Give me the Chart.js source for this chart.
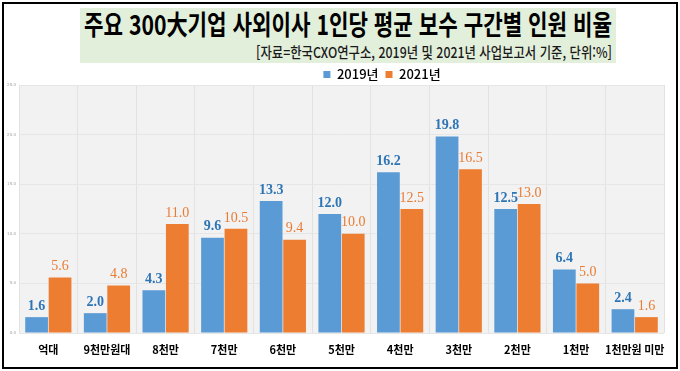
<!DOCTYPE html>
<html lang="ko">
<head>
<meta charset="utf-8">
<title>사외이사 보수 구간별 인원 비율</title>
<script src="https://cdn.jsdelivr.net/npm/chart.js@4.4.1/dist/chart.umd.min.js"></script>
<style>
  html, body { margin: 0; padding: 0; background: #fff; }
  #wrap { position: relative; width: 680px; height: 371px; overflow: hidden; }
  #titleBox { position: absolute; left: 80px; top: 8px; width: 536px; height: 55px; background: #e2efda; }
  .txt { position: absolute; white-space: nowrap; font-family: 'Noto Sans CJK KR', sans-serif;
         transform-origin: left top; line-height: 1; color: #000; }
  #title { left: 84px; top: 10px; font-size: 27px; font-weight: 700; }
  #subtitle { left: 256px; top: 44px; font-size: 15px; font-weight: 500; color: #1a1a1a; }
  #chartBox { position: absolute; left: 0; top: 0; width: 680px; height: 371px; }
  #frame { position: absolute; left: 2px; top: 2px; width: 672px; height: 363px; border: 2px solid #000; pointer-events: none; }
</style>
</head>
<body>
<div id="wrap">
  <div id="titleBox"></div>
  <div id="title" class="txt">주요 300大기업 사외이사 1인당 평균 보수 구간별 인원 비율</div>
  <div id="subtitle" class="txt">[자료=한국CXO연구소, 2019년 및 2021년 사업보고서 기준, 단위:%]</div>
  <div id="chartBox"><canvas id="chart"></canvas></div>
  <div id="frame"></div>
</div>
<script>
// data
const categories = ['억대', '9천만원대', '8천만', '7천만', '6천만', '5천만', '4천만', '3천만', '2천만', '1천만', '1천만원 미만'];
const values2019 = [1.6, 2.0, 4.3, 9.6, 13.3, 12.0, 16.2, 19.8, 12.5, 6.4, 2.4];
const values2021 = [5.6, 4.8, 11.0, 10.5, 9.4, 10.0, 12.5, 16.5, 13.0, 5.0, 1.6];
const seriesNames = ['2019년', '2021년'];
const yTicks = [0, 5, 10, 15, 20, 25];

const barColors = ['#5b9bd5', '#ed7d31'];
const labelColors = ['#2e75b6', '#e97c35'];
const labelFonts = ['bold 14px "Liberation Serif"', '14px "Liberation Serif"'];

// squeeze the headline texts to the width they take in the picture
function fitWidth(id, target) {
  const el = document.getElementById(id);
  const w = el.getBoundingClientRect().width;
  el.style.transform = 'scaleX(' + (target / w) + ')';
}
fitWidth('title', 528);
fitWidth('subtitle', 356);

// grey plot background
const plotBg = {
  id: 'plotBg',
  beforeDraw(chart) {
    const { ctx, chartArea: a } = chart;
    ctx.save();
    ctx.fillStyle = '#f2f2f2';
    ctx.fillRect(a.left, a.top, a.right - a.left, a.bottom - a.top);
    ctx.restore();
  }
};

// legend sits a bit lower and right of centre in the picture
const legendShift = {
  id: 'legendShift',
  afterLayout(chart) {
    const lg = chart.legend;
    if (!lg) return;
    lg.top += 6; lg.bottom += 6;
    lg.left += 50; lg.right += 50;
  }
};

// value labels over the bars
const barLabels = {
  id: 'barLabels',
  afterDatasetsDraw(chart) {
    const ctx = chart.ctx;
    chart.data.datasets.forEach((ds, i) => {
      const meta = chart.getDatasetMeta(i);
      ctx.save();
      ctx.font = labelFonts[i];
      ctx.fillStyle = labelColors[i];
      ctx.textAlign = 'center';
      ctx.textBaseline = 'bottom';
      meta.data.forEach((bar, j) => {
        ctx.fillText(ds.data[j].toFixed(1), bar.x, bar.y - 4);
      });
      ctx.restore();
    });
  }
};

new Chart(document.getElementById('chart'), {
  type: 'bar',
  data: {
    labels: categories,
    datasets: [
      { label: seriesNames[0], data: values2019, backgroundColor: barColors[0] },
      { label: seriesNames[1], data: values2021, backgroundColor: barColors[1] }
    ]
  },
  options: {
    responsive: true,
    maintainAspectRatio: false,
    animation: false,
    datasets: { bar: { categoryPercentage: 0.8, barPercentage: 0.97 } },
    layout: { padding: { top: 55, right: 16, bottom: 0, left: 0 } },
    plugins: {
      legend: {
        display: true,
        labels: {
          boxWidth: 7, boxHeight: 7, padding: 7, color: '#000',
          font: { family: '"Noto Sans CJK KR"', size: 13, weight: '500' }
        }
      },
      title: { display: false },
      tooltip: { enabled: false }
    },
    scales: {
      x: {
        grid: { offset: true, color: '#e2e2e2', drawTicks: false },
        border: { display: false },
        ticks: {
          padding: 10, color: '#000', autoSkip: false, maxRotation: 0, minRotation: 0,
          font: { family: '"Noto Sans CJK KR"', size: 11, weight: 'bold' }
        },
        afterFit(scale) { scale.height = 38; }
      },
      y: {
        min: 0, max: 25,
        afterBuildTicks(scale) { scale.ticks = yTicks.map(v => ({ value: v })); },
        grid: { color: '#e6e6e6', drawTicks: false },
        border: { display: false },
        ticks: {
          padding: 3, color: '#a0a0a0',
          font: { family: '"DejaVu Sans"', size: 4 },
          callback: v => v.toFixed(1)
        },
        afterFit(scale) { scale.width = 19; }
      }
    }
  },
  plugins: [plotBg, legendShift, barLabels]
});
</script>
</body>
</html>
